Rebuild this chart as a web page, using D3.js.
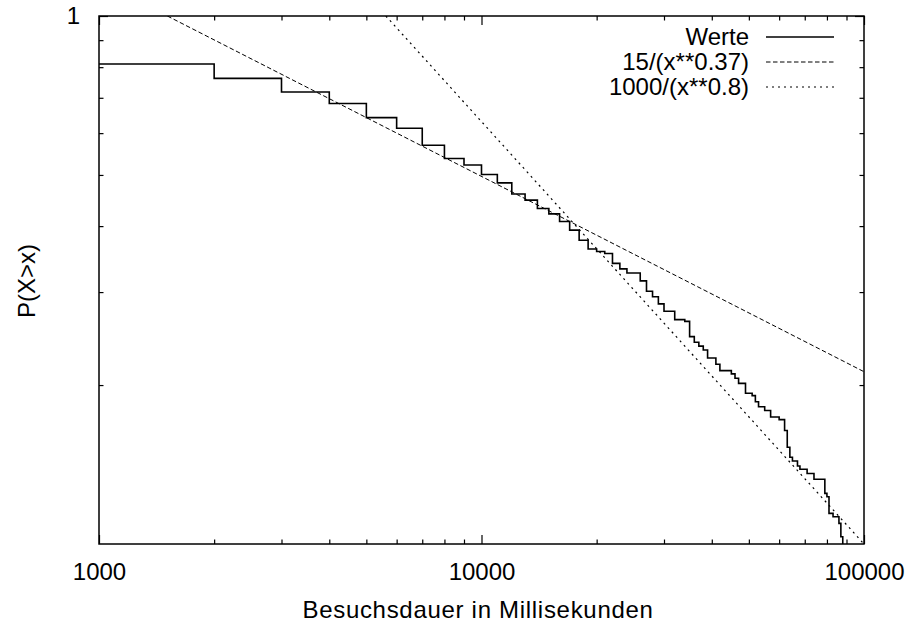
<!DOCTYPE html>
<meta charset="utf-8">
<style> /* set the CSS */

body { margin: 0; background: #fff; }

text {
  font-family: "Liberation Sans", Arial, Helvetica, sans-serif;
  font-size: 24px;
  fill: #000;
}

.line {
  fill: none;
  stroke: #000;
}
</style>
<body>

<!-- load the d3.js library -->
<script src="https://d3js.org/d3.v7.min.js"></script>
<script>

// measured values (Besuchsdauer in ms, P(X>x))
var werteMs = [1000, 2000, 3000, 4000, 5000, 6000, 7000, 8000, 9000, 10000,
  11000, 12000, 13000, 14000, 15000, 16000, 17000, 18000, 19000, 20000,
  21000, 22000, 23000, 24000, 26000, 27000, 28000, 29000, 30000, 32000,
  34000, 35000, 36000, 37000, 38000, 39000, 41000, 42000, 45000, 46000,
  47000, 49000, 51000, 52000, 53000, 55000, 57000, 60000, 62000, 63000,
  64000, 65000, 67000, 68000, 71000, 74000, 79000, 80000, 81000, 83000,
  86000, 87000, 88000];
var werteP = [0.811, 0.762, 0.718, 0.683, 0.642, 0.613, 0.569, 0.537, 0.522, 0.501,
  0.483, 0.460, 0.448, 0.432, 0.422, 0.408, 0.393, 0.376, 0.362, 0.358,
  0.355, 0.340, 0.332, 0.326, 0.315, 0.301, 0.294, 0.285, 0.276, 0.266,
  0.264, 0.247, 0.241, 0.237, 0.233, 0.225, 0.219, 0.213, 0.210, 0.206,
  0.2015, 0.193, 0.191, 0.186, 0.182, 0.179, 0.174, 0.172, 0.164, 0.1525,
  0.146, 0.1436, 0.1405, 0.1385, 0.136, 0.1326, 0.1247, 0.1229, 0.1143, 0.1126,
  0.1094, 0.1032, 0.09];

// fitted curves, end points
var fitAMs = [1509, 100000];
var fitAP = [1, 0.212];
var fitBMs = [5623, 100000];
var fitBP = [1, 0.1];

// legend entries
var legendLabels = ["Werte", "15/(x**0.37)", "1000/(x**0.8)"];

// tick values
var xMajor = [1000, 10000, 100000];
var xMinor = [2000, 3000, 4000, 5000, 6000, 7000, 8000, 9000,
  20000, 30000, 40000, 50000, 60000, 70000, 80000, 90000];
var yMajor = [1];
var yMinor = [0.2, 0.3, 0.4, 0.5, 0.6, 0.7, 0.8, 0.9];

// set the dimensions and margins of the graph
var W = 913, H = 621;
var margin = {top: 16, right: 49, bottom: 77, left: 99},
    width = W - margin.left - margin.right,
    height = H - margin.top - margin.bottom;

// set the ranges
var x = d3.scaleLog().domain([1000, 100000]).range([0, width]);
var y = d3.scaleLog().domain([0.1, 1]).range([height, 0]);

var svg = d3.select("body").append("svg")
    .attr("width", W)
    .attr("height", H)
  .append("g")
    .attr("transform", "translate(" + margin.left + "," + margin.top + ")");

svg.append("clipPath").attr("id", "clip")
  .append("rect")
    .attr("width", width)
    .attr("height", height);

// axes: ticks point inwards and are mirrored on top / right
function ticks(axis, values, size, labels) {
  return axis.tickValues(values)
    .tickSizeInner(-size)
    .tickSizeOuter(0)
    .tickPadding(19)
    .tickFormat(labels ? function(d) { return d; } : "");
}

function addAxis(axis, transform) {
  var g = svg.append("g").attr("transform", transform).call(axis);
  g.select(".domain").remove();
  g.selectAll("line").attr("stroke", "#000").attr("stroke-width", 1.2);
  g.selectAll("text").attr("font-size", null).attr("font-family", null);
  return g;
}

var bottom = "translate(0," + height + ")";
addAxis(ticks(d3.axisBottom(x), xMajor, 9, true), bottom);
addAxis(ticks(d3.axisBottom(x), xMinor, 4.5, false), bottom);
addAxis(ticks(d3.axisTop(x), xMajor, 9, false), "translate(0,0)");
addAxis(ticks(d3.axisTop(x), xMinor, 4.5, false), "translate(0,0)");
addAxis(ticks(d3.axisLeft(y), yMajor, 9, true), "translate(0,0)");
addAxis(ticks(d3.axisLeft(y), yMinor, 4.5, false), "translate(0,0)");
addAxis(ticks(d3.axisRight(y), yMajor, 9, false), "translate(" + width + ",0)");
addAxis(ticks(d3.axisRight(y), yMinor, 4.5, false), "translate(" + width + ",0)");

// the curves
var plot = svg.append("g").attr("clip-path", "url(#clip)");

var valueline = d3.line()
    .x(function(d) { return x(d[0]); })
    .y(function(d) { return y(d[1]); });

plot.append("path")
    .data([d3.zip(fitAMs, fitAP)])
    .attr("class", "line")
    .attr("stroke-width", 1)
    .attr("stroke-dasharray", "4.5,2.5")
    .attr("d", valueline);

plot.append("path")
    .data([d3.zip(fitBMs, fitBP)])
    .attr("class", "line")
    .attr("stroke-width", 1.2)
    .attr("stroke-dasharray", "2,4")
    .attr("d", valueline);

plot.append("path")
    .data([d3.zip(werteMs, werteP)])
    .attr("class", "line")
    .attr("stroke-width", 1.6)
    .attr("d", valueline.curve(d3.curveStepAfter));

// frame
svg.append("rect")
    .attr("width", width)
    .attr("height", height)
    .attr("fill", "none")
    .attr("stroke", "#000")
    .attr("stroke-width", 1.5);

// legend
var dashes = [null, "4.5,2.5", "2,4"];
var widths = [1.6, 1, 1.2];
var legend = svg.selectAll(".legend")
    .data(legendLabels)
  .enter().append("g")
    .attr("transform", function(d, i) { return "translate(0," + (21 + 25 * i) + ")"; });

legend.append("text")
    .attr("x", 650)
    .attr("dy", ".35em")
    .attr("text-anchor", "end")
    .text(function(d) { return d; });

legend.append("line")
    .attr("x1", 667)
    .attr("x2", 735)
    .attr("stroke", "#000")
    .attr("stroke-width", function(d, i) { return widths[i]; })
    .attr("stroke-dasharray", function(d, i) { return dashes[i]; });

// axis labels
svg.append("text")
    .attr("x", 379)
    .attr("y", height + 73.5)
    .attr("text-anchor", "middle")
    .style("letter-spacing", "0.7px")
    .text("Besuchsdauer in Millisekunden");

svg.append("text")
    .attr("transform", "translate(" + (35 - margin.left) + "," + (281 - margin.top) + ") rotate(-90)")
    .attr("text-anchor", "middle")
    .text("P(X>x)");

</script>
</body>
